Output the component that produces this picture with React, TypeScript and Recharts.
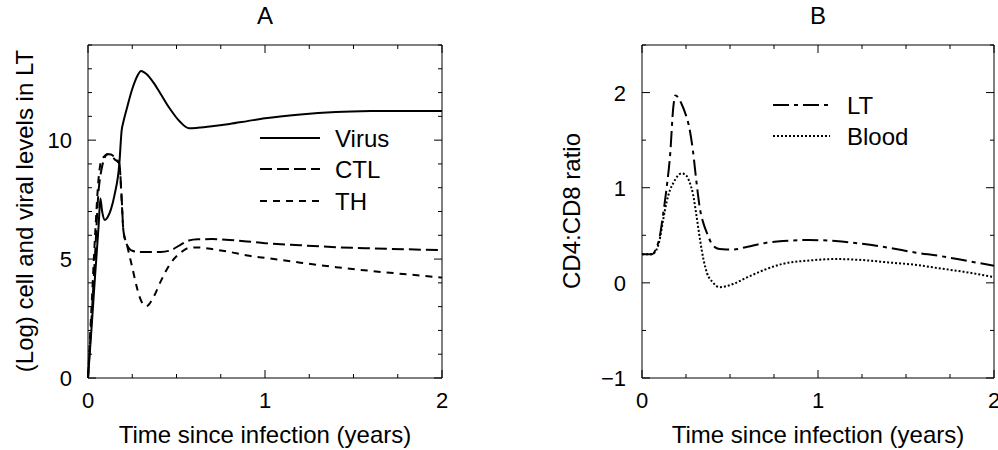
import React from 'react';
import { LineChart, Line, XAxis, YAxis } from 'recharts';

const FONT = '"Liberation Sans", Arial, Helvetica, sans-serif';

// Panel A - log cell and viral levels in lymphoid tissue
const timeA = [0, 0.02, 0.04, 0.06, 0.07, 0.08, 0.096, 0.11, 0.13, 0.15, 0.177, 0.19, 0.2, 0.22, 0.25, 0.28, 0.3, 0.33, 0.37, 0.41, 0.46, 0.52, 0.57, 0.62, 0.7, 0.8, 0.9, 1.0, 1.2, 1.4, 1.6, 1.8, 2.0];
const virus = [0, 2.1, 4.3, 6.4, 7.55, 7.0, 6.64, 6.75, 7.1, 7.7, 9.0, 10.4, 10.77, 11.35, 12.15, 12.72, 12.91, 12.78, 12.42, 11.95, 11.35, 10.77, 10.5, 10.52, 10.58, 10.68, 10.8, 10.92, 11.08, 11.18, 11.22, 11.23, 11.23];
const ctl = [0, 2.5, 5.2, 7.9, 8.5, 8.9, 9.3, 9.42, 9.4, 9.28, 9.0, 7.6, 6.2, 5.6, 5.35, 5.31, 5.3, 5.3, 5.3, 5.3, 5.35, 5.59, 5.78, 5.83, 5.84, 5.8, 5.74, 5.67, 5.58, 5.5, 5.45, 5.41, 5.38];
const th = [0, 3.0, 6.0, 8.4, 9.0, 9.2, 9.35, 9.4, 9.35, 9.2, 9.0, 7.5, 6.2, 5.6, 4.65, 3.7, 3.25, 3.02, 3.4, 4.05, 4.75, 5.25, 5.47, 5.49, 5.42, 5.3, 5.15, 5.05, 4.85, 4.66, 4.5, 4.36, 4.22];

// Panel B - CD4:CD8 ratio
const timeB = [0, 0.055, 0.08, 0.1, 0.12, 0.14, 0.16, 0.178, 0.19, 0.205, 0.225, 0.25, 0.27, 0.29, 0.31, 0.33, 0.35, 0.37, 0.4, 0.44, 0.48, 0.52, 0.6, 0.7, 0.8, 0.95, 1.1, 1.25, 1.4, 1.55, 1.7, 1.85, 2.0];
const lt = [0.3, 0.3, 0.36, 0.48, 0.72, 1.0, 1.35, 1.85, 1.97, 1.95, 1.88, 1.76, 1.62, 1.38, 1.05, 0.77, 0.62, 0.52, 0.4, 0.355, 0.35, 0.35, 0.38, 0.42, 0.44, 0.45, 0.44, 0.41, 0.37, 0.32, 0.28, 0.23, 0.18];
const blood = [0.3, 0.3, 0.34, 0.45, 0.66, 0.85, 0.98, 1.05, 1.09, 1.13, 1.15, 1.13, 1.06, 0.93, 0.7, 0.45, 0.24, 0.1, 0.01, -0.045, -0.035, -0.01, 0.06, 0.14, 0.2, 0.235, 0.25, 0.24, 0.215, 0.19, 0.15, 0.11, 0.06];

const timeTicks = [0, 0.25, 0.5, 0.75, 1, 1.25, 1.5, 1.75, 2];
const levelTicks = [0, 1, 2, 3, 4, 5, 6, 7, 8, 9, 10, 11, 12, 13, 14];
const ratioTicks = [-1, -0.5, 0, 0.5, 1, 1.5, 2, 2.5];

const dataA = timeA.map((t, i) => ({ t, virus: virus[i], ctl: ctl[i], th: th[i] }));
const dataB = timeB.map((t, i) => ({ t, lt: lt[i], blood: blood[i] }));

const fmt = (v: number) => String(v).replace('-', '\u2212');

// inward ticks; only majors get a label (on left/bottom)
const makeTick = (side: string, isMajor: (v: number) => boolean, withLabel: boolean) => (props: any) => {
  const { x, y, payload } = props;
  const v = payload.value;
  const major = isMajor(v);
  const len = major ? 8 : 4;
  let line = null;
  let label = null;
  if (side === 'bottom') {
    line = <line x1={x} y1={y} x2={x} y2={y - len} stroke="#000" />;
    if (withLabel && major) label = <text x={x} y={y + 30} textAnchor="middle" fontSize={22} fontFamily={FONT} fill="#000">{fmt(v)}</text>;
  } else if (side === 'top') {
    line = <line x1={x} y1={y} x2={x} y2={y + len} stroke="#000" />;
  } else if (side === 'left') {
    line = <line x1={x} y1={y} x2={x + len} y2={y} stroke="#000" />;
    if (withLabel && major) label = <text x={x - 16} y={y + 8} textAnchor="end" fontSize={22} fontFamily={FONT} fill="#000">{fmt(v)}</text>;
  } else {
    line = <line x1={x} y1={y} x2={x - len} y2={y} stroke="#000" />;
  }
  return <g>{line}{label}</g>;
};

const intMajor = (v: number) => Number.isInteger(v);
const fiveMajor = (v: number) => v % 5 === 0;

const frameAxes = (yDomain: number[], yTicks: number[], yMajor: (v: number) => boolean, rightW: number) => [
  <XAxis key="xb" xAxisId="b" dataKey="t" type="number" domain={[0, 2]} ticks={timeTicks} interval={0}
    height={40} tickSize={0} tickMargin={0} tickLine={false} axisLine={{ stroke: '#000' }}
    tick={makeTick('bottom', intMajor, true)} />,
  <XAxis key="xt" xAxisId="t" orientation="top" dataKey="t" type="number" domain={[0, 2]} ticks={timeTicks} interval={0}
    height={10} tickSize={0} tickMargin={0} tickLine={false} axisLine={{ stroke: '#000' }}
    tick={makeTick('top', intMajor, false)} />,
  <YAxis key="yl" yAxisId="l" type="number" domain={yDomain} ticks={yTicks} interval={0} allowDataOverflow
    width={40} tickSize={0} tickMargin={0} tickLine={false} axisLine={{ stroke: '#000' }}
    tick={makeTick('left', yMajor, true)} />,
  <YAxis key="yr" yAxisId="r" orientation="right" type="number" domain={yDomain} ticks={yTicks} interval={0} allowDataOverflow
    width={rightW} tickSize={0} tickMargin={0} tickLine={false} axisLine={{ stroke: '#000' }}
    tick={makeTick('right', yMajor, false)} />,
];

const seriesProps = { xAxisId: 'b', yAxisId: 'l', type: 'monotone' as const, stroke: '#000', strokeWidth: 2, dot: false, activeDot: false, isAnimationActive: false };

const txt = { fontFamily: FONT, fontSize: 24, fill: '#000' };

const App = () => {
  return (
    <div style={{ position: 'absolute', left: 0, top: 0, width: 998, height: 450, background: '#fff' }}>
      <div style={{ position: 'absolute', left: 0, top: 0 }}>
        {/* plot area x 88..442, y 45..378 */}
        <LineChart width={499} height={450} data={dataA} margin={{ top: 35, right: 47, bottom: 32, left: 48 }}>
          {frameAxes([0, 14], levelTicks, fiveMajor, 10)}
          <Line {...seriesProps} dataKey="virus" name="Virus" />
          <Line {...seriesProps} dataKey="ctl" name="CTL" strokeDasharray="12 5" />
          <Line {...seriesProps} dataKey="th" name="TH" strokeDasharray="7 6" />
        </LineChart>
      </div>
      <div style={{ position: 'absolute', left: 499, top: 0 }}>
        {/* plot area x 642..994, y 45..378 */}
        <LineChart width={499} height={450} data={dataB} margin={{ top: 35, right: 0, bottom: 32, left: 103 }}>
          {frameAxes([-1, 2.5], ratioTicks, intMajor, 4)}
          <Line {...seriesProps} dataKey="lt" name="LT" strokeDasharray="16 5 4 5" />
          <Line {...seriesProps} dataKey="blood" name="Blood" strokeDasharray="2 2" />
        </LineChart>
      </div>
      <svg width={998} height={450} style={{ position: 'absolute', left: 0, top: 0, pointerEvents: 'none' }}>
        <text x={265} y={24} textAnchor="middle" {...txt}>A</text>
        <text x={818} y={24} textAnchor="middle" {...txt}>B</text>
        <text x={265} y={443} textAnchor="middle" {...txt}>Time since infection (years)</text>
        <text x={818} y={443} textAnchor="middle" {...txt}>Time since infection (years)</text>
        <text transform="translate(33,211) rotate(-90)" textAnchor="middle" {...txt}>(Log) cell and viral levels in LT</text>
        <text transform="translate(580,211) rotate(-90)" textAnchor="middle" {...txt}>CD4:CD8 ratio</text>

        <line x1={260} y1={138} x2={320} y2={138} stroke="#000" strokeWidth={2} />
        <text x={335} y={146.5} {...txt}>Virus</text>
        <line x1={260} y1={169} x2={320} y2={169} stroke="#000" strokeWidth={2} strokeDasharray="12 5" />
        <text x={335} y={177.5} {...txt}>CTL</text>
        <line x1={260} y1={201} x2={320} y2={201} stroke="#000" strokeWidth={2} strokeDasharray="7 6" />
        <text x={335} y={209.5} {...txt}>TH</text>

        <line x1={773} y1={105} x2={830} y2={105} stroke="#000" strokeWidth={2} strokeDasharray="16 5 4 5" />
        <text x={847} y={113.5} {...txt}>LT</text>
        <line x1={773} y1={136} x2={830} y2={136} stroke="#000" strokeWidth={2} strokeDasharray="2 2" />
        <text x={847} y={144.5} {...txt}>Blood</text>
      </svg>
    </div>
  );
};

export default App;
